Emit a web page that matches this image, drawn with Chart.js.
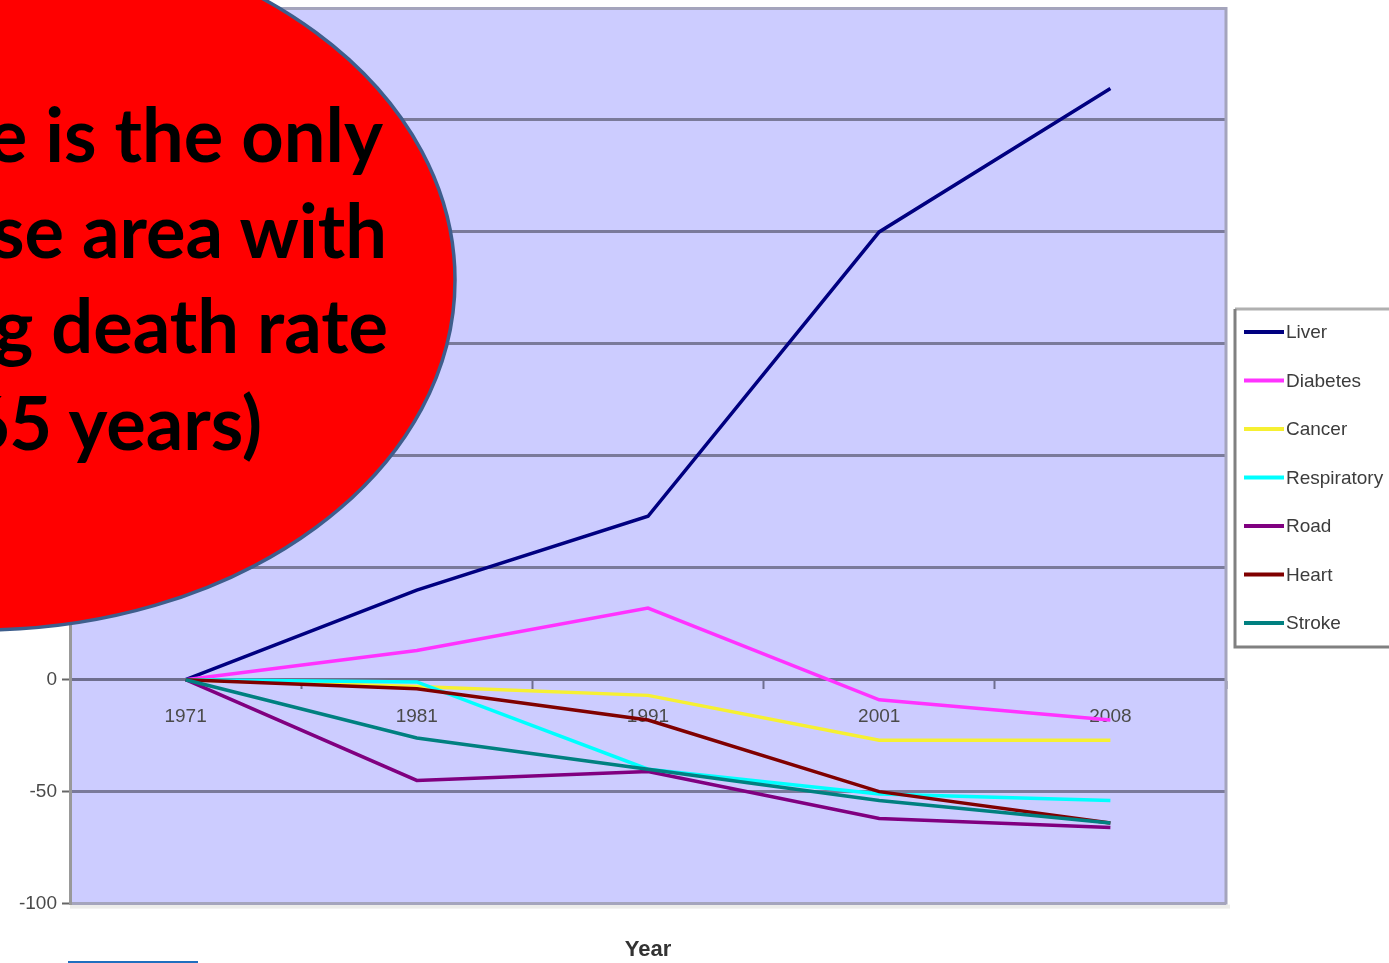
<!DOCTYPE html>
<html>
<head>
<meta charset="utf-8">
<script src="https://cdn.jsdelivr.net/npm/chart.js@4"></script>
<style>
  html, body { margin: 0; padding: 0; background: #fff; overflow: hidden; }
  #wrap { position: relative; width: 1389px; height: 963px; overflow: hidden; }
  #c, #note { position: absolute; left: 0; top: 0; }
</style>
</head>
<body>
<div id="wrap">
  <canvas id="c" width="1389" height="963"></canvas>
  <svg id="note" width="1389" height="963" xmlns="http://www.w3.org/2000/svg">
    <ellipse cx="-20" cy="280" rx="475" ry="350" fill="#ff0000" stroke="#3e5e8c" stroke-width="3.5"/>
    <g id="noteText" font-family="Lato, 'Open Sans', sans-serif" font-weight="bold" font-size="74" fill="#000" text-anchor="end"></g>
    <line x1="68" y1="962" x2="198" y2="962" stroke="#1f6fbf" stroke-width="2"/>
  </svg>
</div>
<script>
// Percentage change in death rate since 1971, by disease area
const years = ['1971', '1981', '1991', '2001', '2008'];
const liver       = [0,  40,  73, 200, 264];
const diabetes    = [0,  13,  32,  -9, -18];
const cancer      = [0,  -3,  -7, -27, -27];
const respiratory = [0,  -1, -40, -51, -54];
const road        = [0, -45, -41, -62, -66];
const heart       = [0,  -4, -18, -50, -64];
const stroke      = [0, -26, -40, -54, -64];

const seriesNames  = ['Liver', 'Diabetes', 'Cancer', 'Respiratory', 'Road', 'Heart', 'Stroke'];
const seriesValues = [liver, diabetes, cancer, respiratory, road, heart, stroke];
const seriesColors = ['#000080', '#ff33ff', '#f6f032', '#00ffff', '#800080', '#800000', '#008080'];

const yMin = -100, yMax = 300, yStep = 50;
const axisTitle = 'Year';

// Callout lines (right edge x, baseline y)
const noteLines = ['e is the only', 'se area with', 'g death rate', '65 years)'];
const noteRight = [383, 387, 388, 262];
const noteBase  = [162, 258, 353, 450];

const g = document.getElementById('noteText');
noteLines.forEach((s, i) => {
  const t = document.createElementNS('http://www.w3.org/2000/svg', 'text');
  t.setAttribute('x', noteRight[i]);
  t.setAttribute('y', noteBase[i]);
  t.textContent = s;
  g.appendChild(t);
});

const TICK_FONT = "'Liberation Sans', Arial, sans-serif";

const plotFrame = {
  id: 'plotFrame',
  beforeDraw(chart) {
    const {ctx, chartArea: a} = chart;
    ctx.save();
    ctx.fillStyle = '#ccccff';
    ctx.fillRect(a.left, a.top, a.right - a.left, a.bottom - a.top);
    // light shadow under the plot
    ctx.fillStyle = '#ececea';
    ctx.fillRect(a.left, a.bottom + 1, a.right - a.left + 4, 4);
    ctx.restore();
  },
  beforeDatasetsDraw(chart) {
    const {ctx, chartArea: a} = chart;
    ctx.save();
    ctx.strokeStyle = '#a4a4bc';
    ctx.lineWidth = 3;
    ctx.beginPath();
    ctx.moveTo(a.right, a.top - 1);
    ctx.lineTo(a.right, a.bottom + 1);
    ctx.stroke();
    ctx.restore();
  }
};

const sideLegend = {
  id: 'sideLegend',
  afterDraw(chart) {
    const {ctx} = chart;
    const bx = 1235, by = 309, bw = 200, bh = 338;
    ctx.save();
    ctx.fillStyle = '#ffffff';
    ctx.fillRect(bx, by, bw, bh);
    ctx.lineWidth = 3;
    ctx.strokeStyle = '#b0b0b0';
    ctx.beginPath(); ctx.moveTo(bx, by); ctx.lineTo(bx + bw, by); ctx.stroke();
    ctx.strokeStyle = '#808080';
    ctx.beginPath(); ctx.moveTo(bx, by); ctx.lineTo(bx, by + bh); ctx.lineTo(bx + bw, by + bh); ctx.stroke();
    ctx.font = '19px ' + TICK_FONT;
    ctx.textBaseline = 'middle';
    ctx.textAlign = 'left';
    chart.data.datasets.forEach((ds, i) => {
      const y = 332 + i * 48.5;
      ctx.strokeStyle = ds.borderColor;
      ctx.lineWidth = 4;
      ctx.beginPath(); ctx.moveTo(1244, y); ctx.lineTo(1284, y); ctx.stroke();
      ctx.fillStyle = '#3c3c3c';
      ctx.fillText(ds.label, 1286, y + 1);
    });
    ctx.restore();
  }
};

new Chart(document.getElementById('c'), {
  type: 'line',
  data: {
    labels: years,
    datasets: seriesNames.map((name, i) => ({
      label: name,
      data: seriesValues[i],
      borderColor: seriesColors[i],
      backgroundColor: seriesColors[i],
      borderWidth: 3.5,
      pointRadius: 0,
      tension: 0,
      order: seriesNames.length - i
    }))
  },
  options: {
    responsive: false,
    devicePixelRatio: 1,
    animation: false,
    layout: { padding: { left: 0, right: 163, top: 8, bottom: 0 } },
    plugins: {
      legend: { display: false },
      tooltip: { enabled: false },
      title: {
        display: true,
        fullSize: false,
        text: axisTitle,
        position: 'bottom',
        color: '#333',
        font: { family: TICK_FONT, size: 22, weight: 'bold', lineHeight: 1.2 },
        padding: { top: 33, bottom: 0 }
      }
    },
    scales: {
      x: {
        position: { y: 0 },
        offset: true,
        grid: {
          offset: true,
          drawOnChartArea: false,
          drawTicks: true,
          tickLength: 8,
          tickColor: '#6e6e8e',
          tickWidth: 2
        },
        border: { display: true, color: '#6e6e8e', width: 3 },
        ticks: { color: '#4a4a4a', font: { family: TICK_FONT, size: 19 }, padding: 18, maxRotation: 0 }
      },
      y: {
        min: yMin,
        max: yMax,
        afterFit(scale) {
          scale.width = 70;
          scale.paddingTop = 0;
          scale.paddingBottom = 0;
        },
        grid: {
          color: c => (c.tick && (c.tick.value === yMax || c.tick.value === yMin)) ? '#a4a4bc' : '#7a7a9a',
          lineWidth: 3,
          drawTicks: true,
          tickLength: 8,
          tickColor: '#666',
          tickWidth: 2
        },
        border: { display: true, color: '#999', width: 3 },
        ticks: { stepSize: yStep, color: '#4a4a4a', font: { family: TICK_FONT, size: 19 }, padding: 5 }
      }
    }
  },
  plugins: [plotFrame, sideLegend]
});
</script>
</body>
</html>
